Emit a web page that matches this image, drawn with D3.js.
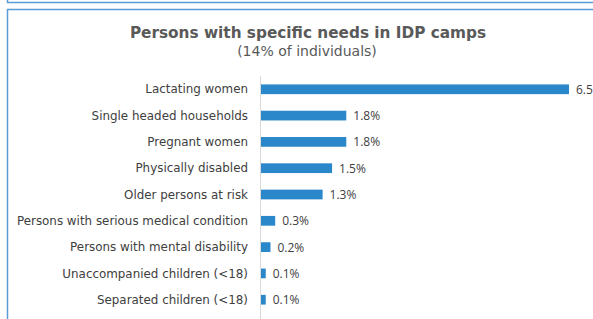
<!DOCTYPE html>
<html>
<head>
<meta charset="utf-8">
<script src="https://cdn.jsdelivr.net/npm/d3@7"></script>
<style>
  html, body { margin: 0; padding: 0; background: #fff; }
  svg { display: block; }
</style>
</head>
<body>
<div id="chart"></div>
<script>
// data
var categories = [
  "Lactating women",
  "Single headed households",
  "Pregnant women",
  "Physically disabled",
  "Older persons at risk ",
  "Persons with serious medical condition",
  "Persons with mental disability",
  "Unaccompanied children (<18)",
  "Separated children (<18)"
];
var values = [6.5, 1.8, 1.8, 1.5, 1.3, 0.3, 0.2, 0.1, 0.1];
var title = "Persons with specific needs in IDP camps";
var subtitle = "(14% of individuals)";

var width = 593, height = 319;
var labelFont = "'DejaVu Sans', sans-serif";
var valueFont = "'Open Sans', sans-serif";

var svg = d3.select("#chart").append("svg")
    .attr("width", width)
    .attr("height", height);

// panel borders (previous panel bottom, this panel frame)
var frame = svg.append("g").attr("class", "frame");
frame.append("path")
    .attr("d", "M7.5,-5V2.5H600")
    .attr("fill", "none")
    .attr("stroke", "#5b9bd5")
    .attr("stroke-width", 1.5);
frame.append("path")
    .attr("d", "M7.5,330V9.5H600")
    .attr("fill", "none")
    .attr("stroke", "#5b9bd5")
    .attr("stroke-width", 1.5);

// titles
svg.append("text")
    .attr("x", 308).attr("y", 38)
    .attr("text-anchor", "middle")
    .attr("font-family", labelFont)
    .attr("font-weight", "bold")
    .attr("font-size", 15.3)
    .attr("fill", "#595959")
    .text(title);
svg.append("text")
    .attr("x", 307).attr("y", 56)
    .attr("text-anchor", "middle")
    .attr("font-family", labelFont)
    .attr("font-size", 14)
    .attr("fill", "#595959")
    .text(subtitle);

// scales
var x = d3.scaleLinear().domain([0, 6.5]).range([261, 569]);
var y = d3.scaleBand().domain(categories).range([76, 313]).paddingInner(0.63).paddingOuter(0.32);

// axis line
svg.append("line")
    .attr("x1", 260.5).attr("x2", 260.5)
    .attr("y1", 76).attr("y2", height)
    .attr("stroke", "#d9d9d9")
    .attr("stroke-width", 1);

// category labels
svg.append("g").selectAll("text")
    .data(categories)
    .enter()
    .append("text")
    .attr("x", 248)
    .attr("y", function(d) { return y(d) + y.bandwidth() / 2; })
    .attr("dy", "0.35em")
    .attr("text-anchor", "end")
    .attr("font-family", labelFont)
    .attr("font-size", 11.9)
    .attr("fill", "#404040")
    .text(function(d) { return d; });

// bars
svg.append("g").selectAll("rect")
    .data(values)
    .enter()
    .append("rect")
    .attr("x", x(0))
    .attr("y", function(d, i) { return y(categories[i]); })
    .attr("width", function(d) { return x(d) - x(0); })
    .attr("height", y.bandwidth())
    .attr("fill", "#2a87c9");

// value labels (the 6.5% one runs off the right edge, as in the source)
svg.append("g").selectAll("text")
    .data(values)
    .enter()
    .append("text")
    .attr("x", function(d) { return x(d) + 7; })
    .attr("y", function(d, i) { return y(categories[i]) + y.bandwidth() / 2; })
    .attr("dy", "0.38em")
    .attr("font-family", valueFont)
    .attr("font-size", 12)
    .attr("fill", "#404040")
    .text(function(d) { return d.toFixed(1) + "%"; });
</script>
</body>
</html>
